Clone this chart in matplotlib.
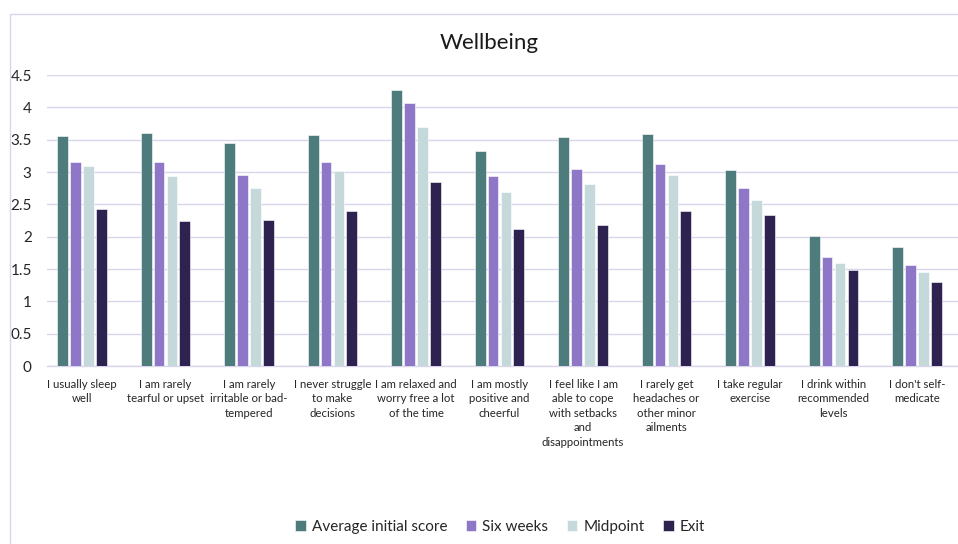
import matplotlib
matplotlib.use("Agg")
import matplotlib.pyplot as plt
import numpy as np
from matplotlib.patches import Rectangle

plt.rcParams['font.family'] = ['Lato', 'DejaVu Sans']

categories = [
    "I usually sleep\nwell",
    "I am rarely\ntearful or upset",
    "I am rarely\nirritable or bad-\ntempered",
    "I never struggle\nto make\ndecisions",
    "I am relaxed and\nworry free a lot\nof the time",
    "I am mostly\npositive and\ncheerful",
    "I feel like I am\nable to cope\nwith setbacks\nand\ndisappointments",
    "I rarely get\nheadaches or\nother minor\nailments",
    "I take regular\nexercise",
    "I drink within\nrecommended\nlevels",
    "I don't self-\nmedicate",
]
series_names = ["Average initial score", "Six weeks", "Midpoint", "Exit"]
average_initial = [3.55, 3.60, 3.45, 3.57, 4.27, 3.33, 3.54, 3.58, 3.03, 2.01, 1.84]
six_weeks = [3.15, 3.15, 2.96, 3.15, 4.06, 2.94, 3.05, 3.12, 2.76, 1.69, 1.56]
midpoint = [3.10, 2.94, 2.76, 3.02, 3.70, 2.69, 2.81, 2.96, 2.57, 1.60, 1.46]
exit_ = [2.43, 2.25, 2.26, 2.39, 2.85, 2.12, 2.18, 2.39, 2.33, 1.48, 1.30]
yticks = [0, 0.5, 1, 1.5, 2, 2.5, 3, 3.5, 4, 4.5]
ytick_labels = ["0", "0.5", "1", "1.5", "2", "2.5", "3", "3.5", "4", "4.5"]

colors = ["#4E7B7C", "#8E77C6", "#C5D8DA", "#2E2350"]

W, H = 958, 544
fig = plt.figure(figsize=(W / 100, H / 100), dpi=100)

# chart border
fig.patches.append(Rectangle((9.5 / W, -0.1), 1.2, (1 - 13.5 / H) + 0.1,
                             transform=fig.transFigure, fill=False,
                             edgecolor="#D9D5EA", linewidth=1.0))

ax = fig.add_axes([47 / W, 1 - 366 / H, (958 - 47) / W, (366 - 75) / H])

x = np.arange(len(categories))
step = 0.154
bw = 0.128
all_series = [average_initial, six_weeks, midpoint, exit_]
for i, (vals, name, c) in enumerate(zip(all_series, series_names, colors)):
    ax.bar(x + (i - 1.5) * step, vals, width=bw, color=c, label=name,
           edgecolor="white", linewidth=0.4, zorder=3)

ax.set_xlim(-0.419, 10.49)
ax.set_ylim(0, 4.5)
ax.set_yticks(yticks)
ax.set_yticklabels(ytick_labels, fontsize=11, color="#262626")
ax.set_xticks(x)
ax.set_xticklabels(categories, fontsize=8.2, color="#262626", linespacing=1.4)
ax.tick_params(axis='both', length=0)
ax.tick_params(axis='y', pad=11)
ax.tick_params(axis='x', pad=9)
ax.yaxis.grid(True, color="#D9D5EA", linewidth=1.0, zorder=0)
for s in ["top", "right", "left"]:
    ax.spines[s].set_visible(False)
ax.spines["bottom"].set_color("#D9D5EA")
ax.spines["bottom"].set_linewidth(1.0)

fig.text(489 / W, 1 - 43 / H, "Wellbeing", ha="center", va="center",
         fontsize=16, color="#1a1a1a")

fig.legend(loc="center", bbox_to_anchor=(500 / W, 1 - 527 / H), ncol=4,
           frameon=False, fontsize=11, handlelength=0.7, handleheight=0.7,
           handletextpad=0.4, columnspacing=1.2, labelcolor="#262626")

fig.savefig("out.png", dpi=100)
